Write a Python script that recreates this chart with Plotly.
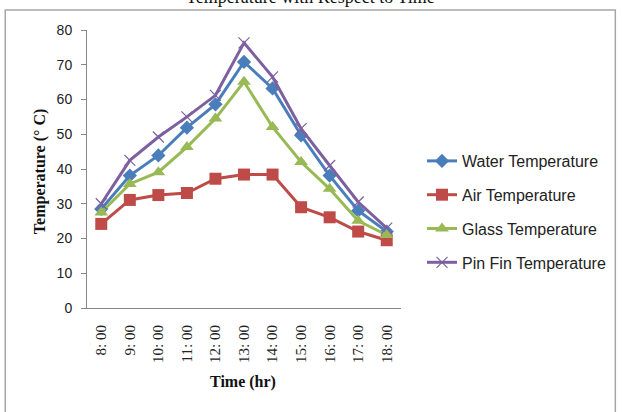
import plotly.graph_objects as go

times = ["8: 00", "9: 00", "10: 00", "11: 00", "12: 00", "13: 00", "14: 00", "15: 00", "16: 00", "17: 00", "18: 00"]
water = [28.5, 38.1, 43.9, 51.9, 58.6, 70.8, 63.2, 49.7, 38.1, 28.0, 22.0]
air = [24.2, 31.1, 32.5, 33.1, 37.2, 38.4, 38.4, 29.0, 26.1, 22.0, 19.5]
glass = [27.5, 35.7, 39.1, 46.3, 54.5, 65.1, 52.1, 42.0, 34.3, 25.1, 21.0]
pinfin = [30.0, 42.5, 49.2, 55.0, 61.2, 76.3, 66.5, 51.6, 41.0, 30.5, 23.0]

series = [
    ("Water Temperature", water, "#4A7EBB", "diamond", 11, None),
    ("Air Temperature", air, "#BE4B48", "square", 12, None),
    ("Glass Temperature", glass, "#98B954", "triangle-up", 12, None),
    ("Pin Fin Temperature", pinfin, "#7D60A0", "x-thin", 11, 1.2),
]

fig = go.Figure()
for i, (name, vals, col, sym, sz, lw) in enumerate(series):
    mk = dict(symbol=sym, size=sz, color=col)
    if lw:
        mk["line"] = dict(color=col, width=lw)
    fig.add_trace(go.Scatter(
        x=times, y=vals, name=name, mode="lines+markers",
        line=dict(color=col, width=3), marker=mk,
        legendgroup="g%d" % i,
    ))

W0, W1 = 87, 402
H0, H1 = 30, 308
pw, ph = W1 - W0, H1 - H0

def px(x):
    return (x - W0) / pw

def py(y):
    return (H1 - y) / ph

fig.update_layout(
    width=622, height=412,
    margin=dict(l=W0, r=622 - W1, t=H0, b=412 - H1, pad=0),
    paper_bgcolor="white", plot_bgcolor="white",
    showlegend=True,
    legend=dict(
        x=px(422), y=py(144), xanchor="left", yanchor="top",
        font=dict(family="Liberation Sans", size=16, color="#222222"),
        tracegroupgap=10, itemwidth=30, bgcolor="rgba(0,0,0,0)",
    ),
    xaxis=dict(
        type="category", range=[-0.5, 10.5],
        showline=True, linecolor="#868686", linewidth=1,
        showgrid=False, ticks="", tickangle=-90,
        tickfont=dict(family="Liberation Serif", size=15, color="#222222"),
        ticklabelstandoff=10, zeroline=False,
    ),
    yaxis=dict(
        range=[0, 80], tickvals=[0, 10, 20, 30, 40, 50, 60, 70, 80],
        showline=True, linecolor="#868686", linewidth=1,
        showgrid=False, ticks="outside", ticklen=5, tickcolor="#868686",
        tickfont=dict(family="Liberation Sans", size=14, color="#222222"),
        ticklabelstandoff=6, zeroline=False,
    ),
)

fig.add_shape(type="rect", xref="paper", yref="paper",
              x0=px(5), x1=px(617), y0=py(416), y1=py(10),
              line=dict(color="#A6A6A6", width=1.5), layer="below")

fig.add_annotation(text="Temperature with Respect to Time", xref="paper", yref="paper",
                   x=px(311), y=py(9), xanchor="center", yanchor="bottom", showarrow=False,
                   font=dict(family="Liberation Serif", size=18, color="#111111"))
fig.add_annotation(text="<b>Temperature (° C)</b>", xref="paper", yref="paper",
                   x=px(40), y=py(172), xanchor="center", yanchor="middle", showarrow=False,
                   textangle=-90,
                   font=dict(family="Liberation Serif", size=16, color="#111111"))
fig.add_annotation(text="<b>Time (hr)</b>", xref="paper", yref="paper",
                   x=px(243), y=py(382), xanchor="center", yanchor="middle", showarrow=False,
                   font=dict(family="Liberation Serif", size=16, color="#111111"))

fig.write_html("out.html")
